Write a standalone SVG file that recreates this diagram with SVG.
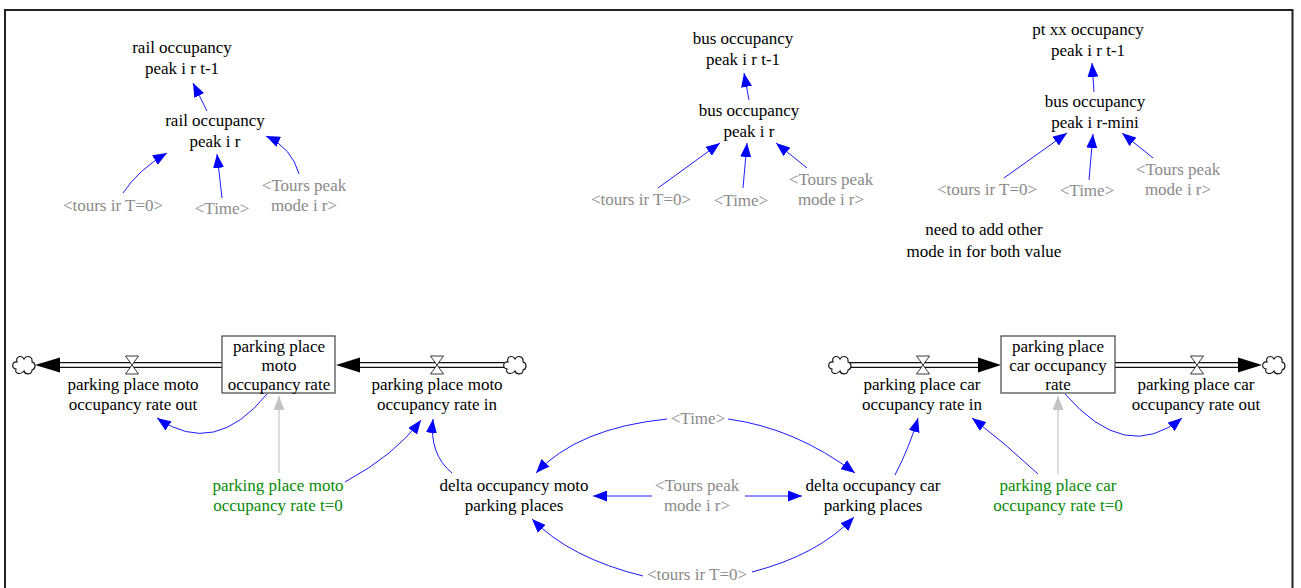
<svg xmlns="http://www.w3.org/2000/svg" width="1301" height="588" viewBox="0 0 1301 588">
<style>
text{font-family:"Liberation Serif","Times New Roman",serif;font-size:17px;text-anchor:middle;fill:#000}
.g{fill:#8a8a8a}
.gr{fill:#078a07}
.link{fill:none;stroke:#0000ff;stroke-width:0.9;marker-end:url(#ab)}
.init{fill:none;stroke:#c4c4c4;stroke-width:1.2;marker-end:url(#ag)}
.pipeo{fill:none;stroke:#111;stroke-width:6}
.pipei{fill:none;stroke:#fff;stroke-width:3.4}
.stock{fill:#fff;stroke:#444;stroke-width:1.2}
.valve{fill:#fff;stroke:#222;stroke-width:0.9}
.cloud{fill:#fff;stroke:#111;stroke-width:1.1}
.head{fill:#000}
</style>
<defs>
<marker id="ab" markerUnits="userSpaceOnUse" markerWidth="15" markerHeight="11" refX="14" refY="5.5" orient="auto"><path d="M0,0 L14,5.5 L0,11 z" fill="#0000ff"/></marker>
<marker id="ag" markerUnits="userSpaceOnUse" markerWidth="15" markerHeight="11" refX="14" refY="5.5" orient="auto"><path d="M0,0 L14,5.5 L0,11 z" fill="#c4c4c4"/></marker>
<path id="cl" d="M-7,-3 C-9,-9 -2,-10 0,-6 C2,-10 9,-9 8,-3 C12,-2 12,4 8,5 C8,10 1,10 0,6 C-3,10 -10,9 -8,4 C-13,3 -12,-4 -7,-3 Z"/>
<path id="vl" d="M-6.5,-9 L6.5,-9 L-6.5,9 L6.5,9 Z"/>
</defs>
<rect x="5" y="10" width="1287.5" height="600" fill="none" stroke="#222" stroke-width="2"/>

<g id="connectors">
<path class="link" d="M207,111 L193,83"/>
<path class="link" d="M123,193 Q138,170 167,153"/>
<path class="link" d="M222,198 L217,154"/>
<path class="link" d="M299,174 Q292,148 266,136"/>
<path class="link" d="M749,100 L744,73"/>
<path class="link" d="M658,188 L720,143"/>
<path class="link" d="M743,188 L747,143"/>
<path class="link" d="M807,168 L776,143"/>
<path class="link" d="M1094,92 L1092,63"/>
<path class="link" d="M1004,178 L1067,133"/>
<path class="link" d="M1089,180 L1093,134"/>
<path class="link" d="M1153,158 L1122,133"/>
<path class="link" d="M267,394 Q215,458 157,418"/>
<path class="link" d="M345,482 Q395,455 421,420"/>
<path class="link" d="M452,473 Q429,454 433,419"/>
<path class="link" d="M667,419 Q578,428 536,473"/>
<path class="link" d="M728,419 Q795,428 855,473"/>
<path class="link" d="M652,496 L593,496"/>
<path class="link" d="M745,496 L802,496"/>
<path class="link" d="M643,576 Q570,558 532,519"/>
<path class="link" d="M752,572 Q818,555 854,517"/>
<path class="link" d="M895,475 Q910,446 918,418"/>
<path class="link" d="M1038,474 Q1005,443 972,418"/>
<path class="link" d="M1065,394 Q1126,464 1182,418"/>
<path class="init" d="M279,473 L279,396"/>
<path class="init" d="M1058,474 L1058,396"/>
</g>

<g id="flows">
<g id="flow-moto-out">
<path class="pipeo" d="M222,365 L58,365"/><path class="pipei" d="M223,365 L58,365"/>
<polygon class="head" points="35,365 60,357.5 60,372.5"/>
<use href="#cl" class="cloud" x="24" y="365"/>
<use href="#vl" class="valve" x="132" y="365"/>
<text x="133" y="390">parking place moto</text><text x="133" y="410">occupancy rate out</text>
</g>
<g id="flow-moto-in">
<path class="pipeo" d="M504,365 L358,365"/><path class="pipei" d="M505,365 L358,365"/>
<polygon class="head" points="336,365 360,357.5 360,372.5"/>
<use href="#cl" class="cloud" x="515" y="365"/>
<use href="#vl" class="valve" x="437" y="365"/>
<text x="437" y="390">parking place moto</text><text x="437" y="410">occupancy rate in</text>
</g>
<g id="flow-car-in">
<path class="pipeo" d="M850,365 L980,365"/><path class="pipei" d="M849,365 L980,365"/>
<polygon class="head" points="1001,365 978,357.5 978,372.5"/>
<use href="#cl" class="cloud" x="840" y="365"/>
<use href="#vl" class="valve" x="923" y="365"/>
<text x="922" y="390">parking place car</text><text x="922" y="410">occupancy rate in</text>
</g>
<g id="flow-car-out">
<path class="pipeo" d="M1115,365 L1240,365"/><path class="pipei" d="M1114,365 L1240,365"/>
<polygon class="head" points="1262,365 1238,357.5 1238,372.5"/>
<use href="#cl" class="cloud" x="1274" y="365"/>
<use href="#vl" class="valve" x="1197" y="365"/>
<text x="1196" y="390">parking place car</text><text x="1196" y="410">occupancy rate out</text>
</g>
</g>

<g id="stock-moto">
<rect class="stock" x="222" y="336" width="113" height="57"/>
<text x="279" y="352">parking place</text><text x="279" y="371">moto</text><text x="279" y="390">occupancy rate</text>
</g>
<g id="stock-car">
<rect class="stock" x="1001" y="336" width="114" height="57"/>
<text x="1058" y="352">parking place</text><text x="1058" y="371">car occupancy</text><text x="1058" y="390">rate</text>
</g>

<g id="rail-t1"><text x="182" y="53">rail occupancy</text><text x="182" y="74">peak i r t-1</text></g>
<g id="rail-peak"><text x="215" y="126">rail occupancy</text><text x="215" y="147">peak i r</text></g>
<g id="rail-tours"><text class="g" x="113" y="211">&lt;tours ir T=0&gt;</text></g>
<g id="rail-time"><text class="g" x="222" y="214">&lt;Time&gt;</text></g>
<g id="rail-tpm"><text class="g" x="304" y="191">&lt;Tours peak</text><text class="g" x="304" y="211">mode i r&gt;</text></g>

<g id="bus-t1"><text x="743" y="44">bus occupancy</text><text x="743" y="65">peak i r t-1</text></g>
<g id="bus-peak"><text x="749" y="116">bus occupancy</text><text x="749" y="137">peak i r</text></g>
<g id="bus-tours"><text class="g" x="641" y="205">&lt;tours ir T=0&gt;</text></g>
<g id="bus-time"><text class="g" x="741" y="206">&lt;Time&gt;</text></g>
<g id="bus-tpm"><text class="g" x="831" y="185">&lt;Tours peak</text><text class="g" x="831" y="205">mode i r&gt;</text></g>

<g id="pt-t1"><text x="1088" y="35">pt xx occupancy</text><text x="1088" y="56">peak i r t-1</text></g>
<g id="bus-mini"><text x="1095" y="107">bus occupancy</text><text x="1095" y="128">peak i r-mini</text></g>
<g id="mini-tours"><text class="g" x="987" y="195">&lt;tours ir T=0&gt;</text></g>
<g id="mini-time"><text class="g" x="1087" y="196">&lt;Time&gt;</text></g>
<g id="mini-tpm"><text class="g" x="1178" y="175">&lt;Tours peak</text><text class="g" x="1178" y="195">mode i r&gt;</text></g>
<g id="note"><text x="984" y="235">need to add other</text><text x="984" y="257">mode in for both value</text></g>

<g id="moto-init"><text class="gr" x="278" y="491">parking place moto</text><text class="gr" x="278" y="511">occupancy rate t=0</text></g>
<g id="car-init"><text class="gr" x="1058" y="491">parking place car</text><text class="gr" x="1058" y="511">occupancy rate t=0</text></g>
<g id="delta-moto"><text x="514" y="491">delta occupancy moto</text><text x="514" y="511">parking places</text></g>
<g id="delta-car"><text x="873" y="491">delta occupancy car</text><text x="873" y="511">parking places</text></g>
<g id="time-b"><text class="g" x="698" y="424">&lt;Time&gt;</text></g>
<g id="tpm-b"><text class="g" x="697" y="491">&lt;Tours peak</text><text class="g" x="697" y="511">mode i r&gt;</text></g>
<g id="tours-b"><text class="g" x="697" y="580">&lt;tours ir T=0&gt;</text></g>
</svg>
